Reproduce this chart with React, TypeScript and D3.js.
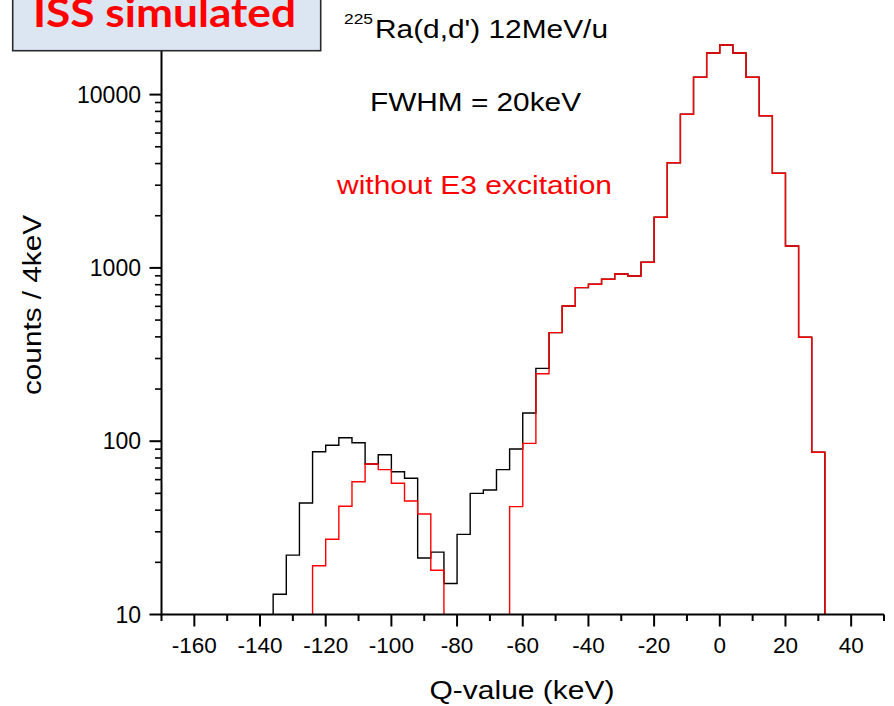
import React from 'react';
import * as d3 from 'd3';

// Bin lower edges (keV), 4 keV bins
const binStarts = [
  -136, -132, -128, -124, -120, -116, -112, -108, -104, -100,
  -96, -92, -88, -84, -80, -76, -72, -68, -64, -60,
  -56, -52, -48, -44, -40, -36, -32, -28, -24, -20,
  -16, -12, -8, -4, 0, 4, 8, 12, 16, 20, 24, 28,
];

// with E3 excitation (black)
const blackCounts = [
  13.1, 22.0, 44.0, 86.9, 94.7, 104.7, 98.0, 73.9, 83.6, 66.7,
  61.1, 21.2, 22.9, 15.1, 29.0, 50.0, 52.3, 68.5, 90.2, 145.5,
  263, 423, 603, 769, 804, 860, 922, 898, 1077, 1959,
  4046, 7697, 12584, 17380, 19330, 17380, 12584, 7556, 3514, 1337, 398, 86.3,
];

// without E3 excitation (red); null = no counts
const redCounts = [
  null, null, null, 19.1, 27.2, 42.1, 58.4, 73.9, 68.5, 57.2,
  45.2, 38.0, 18.0, null, null, null, null, null, 41.9, 97.2,
  245, 423, 603, 769, 804, 860, 922, 898, 1077, 1959,
  4046, 7697, 12584, 17380, 19330, 17380, 12584, 7556, 3514, 1337, 398, 86.3,
];

const xMajorTicks = [-160, -140, -120, -100, -80, -60, -40, -20, 0, 20, 40];
const xMinorTicks = [-170, -150, -130, -110, -90, -70, -50, -30, -10, 10, 30, 50];
const yMajorTicks = [10, 100, 1000, 10000];
const yMinorTicks = [
  20, 30, 40, 50, 60, 70, 80, 90,
  200, 300, 400, 500, 600, 700, 800, 900,
  2000, 3000, 4000, 5000, 6000, 7000, 8000, 9000, 20000, 30000,
];

const BIN = 4;
const W = 894;
const H = 706;
const FONT = "'Liberation Sans', Arial, sans-serif";

const x = d3.scaleLinear().domain([-170, 50]).range([161.5, 884]);
const y = d3.scaleLog().domain([10, 10000]).range([614.5, 94.6]);

function stepPath(counts: (number | null)[]): string {
  const p = d3.path();
  let open = false;
  const base = y(10);
  let cur = 0;
  counts.forEach((v, i) => {
    const x0 = x(binStarts[i]);
    const x1 = x(binStarts[i] + BIN);
    if (v == null) {
      if (open) {
        p.lineTo(x0, base);
        open = false;
      }
      return;
    }
    if (!open) {
      p.moveTo(x0, base);
      open = true;
    }
    p.lineTo(x0, y(v));
    p.lineTo(x1, y(v));
    cur = x1;
  });
  if (open) p.lineTo(cur, base);
  return p.toString();
}

export default function App() {
  const base = y(10);
  const ax = x(-170);
  return (
    <svg
      width={W}
      height={H}
      viewBox={`0 0 ${W} ${H}`}
      style={{ position: 'absolute', left: 0, top: 0, background: '#fff' }}
    >
      <rect x={0} y={0} width={W} height={H} fill="#fff" />

      {/* histograms */}
      <path d={stepPath(blackCounts)} fill="none" stroke="#000" strokeWidth={1.4} />
      <path d={stepPath(redCounts)} fill="none" stroke="#ff0000" strokeWidth={1.4} />

      {/* x axis */}
      <line x1={ax} x2={x(50)} y1={base} y2={base} stroke="#000" strokeWidth={2} />
      {xMajorTicks.map((t) => (
        <line key={'xM' + t} x1={x(t)} x2={x(t)} y1={base} y2={base + 12} stroke="#000" strokeWidth={2} />
      ))}
      {xMinorTicks.map((t) => (
        <line key={'xm' + t} x1={x(t)} x2={x(t)} y1={base} y2={base + 6.5} stroke="#000" strokeWidth={2} />
      ))}
      {xMajorTicks.map((t) => (
        <text key={'xl' + t} x={x(t)} y={653} textAnchor="middle" fontSize={22.5} fontFamily={FONT} fill="#000">
          {t}
        </text>
      ))}

      {/* y axis */}
      <line x1={ax} x2={ax} y1={base + 1} y2={0} stroke="#000" strokeWidth={2} />
      {yMajorTicks.map((t) => (
        <line key={'yM' + t} x1={ax - 12} x2={ax} y1={y(t)} y2={y(t)} stroke="#000" strokeWidth={2} />
      ))}
      {yMinorTicks.map((t) => (
        <line key={'ym' + t} x1={ax - 6.5} x2={ax} y1={y(t)} y2={y(t)} stroke="#000" strokeWidth={1.6} />
      ))}
      {yMajorTicks.map((t) => (
        <text key={'yl' + t} x={ax - 20.5} y={y(t) + 8} textAnchor="end" fontSize={23} fontFamily={FONT} fill="#000">
          {t}
        </text>
      ))}

      {/* axis titles */}
      <text
        x={522}
        y={699}
        textAnchor="middle"
        fontSize={25}
        fontFamily={FONT}
        textLength={185}
        lengthAdjust="spacingAndGlyphs"
      >
        Q-value (keV)
      </text>
      <text
        transform="translate(41,305) rotate(-90)"
        textAnchor="middle"
        fontSize={25}
        fontFamily={FONT}
        textLength={180}
        lengthAdjust="spacingAndGlyphs"
      >
        counts / 4keV
      </text>

      {/* annotations */}
      <text x={344} y={23.5} fontSize={14} fontFamily={FONT} textLength={29} lengthAdjust="spacingAndGlyphs">
        225
      </text>
      <text x={375} y={38.3} fontSize={25} fontFamily={FONT} textLength={233} lengthAdjust="spacingAndGlyphs">
        Ra(d,d') 12MeV/u
      </text>
      <text x={370} y={111} fontSize={26} fontFamily={FONT} textLength={211} lengthAdjust="spacingAndGlyphs">
        FWHM = 20keV
      </text>
      <text
        x={337}
        y={194}
        fontSize={26}
        fontFamily={FONT}
        fill="#ff0000"
        textLength={275}
        lengthAdjust="spacingAndGlyphs"
      >
        without E3 excitation
      </text>

      {/* ISS simulated box */}
      <rect x={12.7} y={-10} width={308} height={60.7} fill="#dce6f2" stroke="#2b2b2b" strokeWidth={1.6} />
      <text
        x={33}
        y={27}
        fontSize={40}
        fontWeight="bold"
        fontFamily="Lato, 'Open Sans', sans-serif"
        fill="#ff0000"
        textLength={263}
        lengthAdjust="spacingAndGlyphs"
      >
        ISS simulated
      </text>
    </svg>
  );
}
